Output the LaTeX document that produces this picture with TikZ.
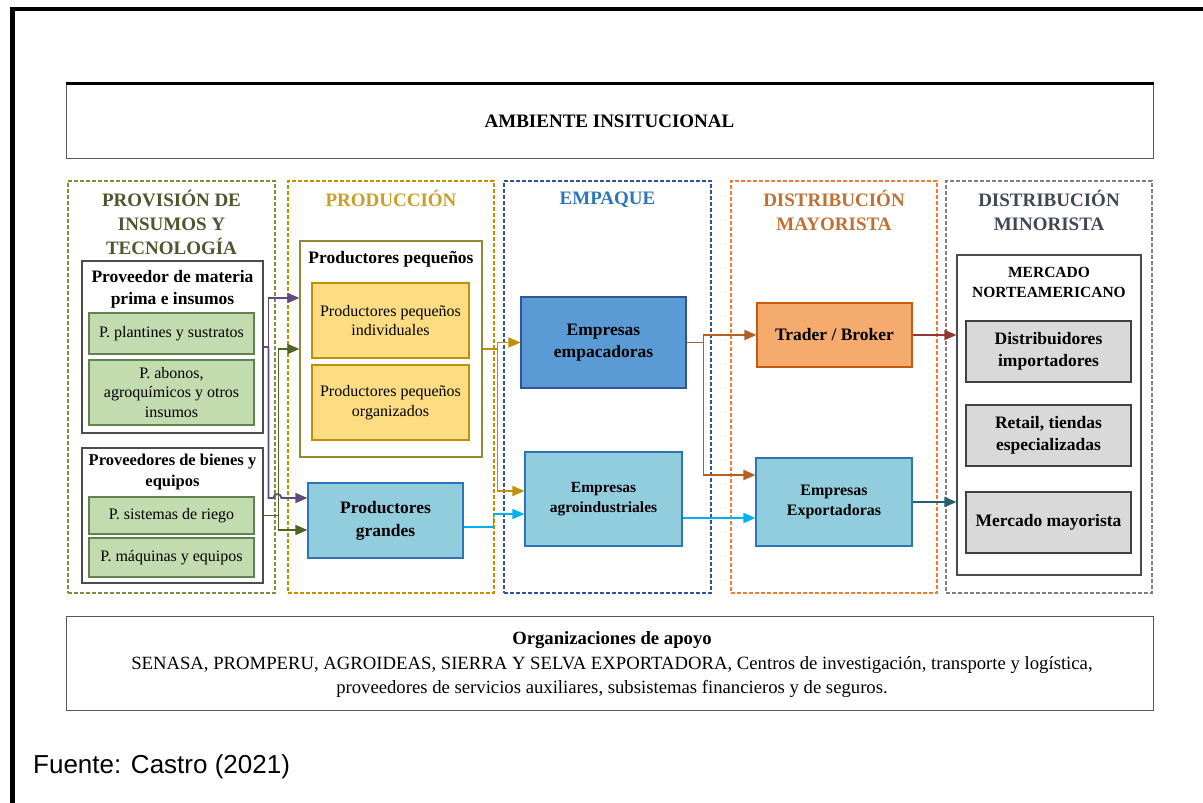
\documentclass[tikz,border=0pt]{standalone}
\usepackage{fontspec}
\setmainfont{Liberation Serif}
\newfontfamily\arialf{Liberation Sans}
\usetikzlibrary{arrows.meta}
\definecolor{cgreenD}{RGB}{118,146,60}
\definecolor{cgoldD}{RGB}{191,144,0}
\definecolor{cblueD}{RGB}{47,85,151}
\definecolor{corangeD}{RGB}{237,125,49}
\definecolor{cgrayD}{RGB}{128,128,128}
\definecolor{tOne}{RGB}{80,85,45}
\definecolor{tTwo}{RGB}{200,160,40}
\definecolor{tThree}{RGB}{46,117,182}
\definecolor{tFour}{RGB}{192,112,48}
\definecolor{tFive}{RGB}{64,70,86}
\definecolor{gfill}{RGB}{195,220,175}
\definecolor{gline}{RGB}{100,130,80}
\definecolor{yfill}{RGB}{253,220,130}
\definecolor{lbfill}{RGB}{146,205,222}
\definecolor{lbline}{RGB}{46,117,182}
\definecolor{dbfill}{RGB}{91,155,213}
\definecolor{dbline}{RGB}{47,85,151}
\definecolor{orfill}{RGB}{245,170,110}
\definecolor{orline}{RGB}{197,90,17}
\definecolor{grfill}{RGB}{217,217,217}
\definecolor{ppline}{RGB}{143,138,58}
\definecolor{apurple}{RGB}{96,74,123}
\definecolor{agreen}{RGB}{79,98,40}
\definecolor{agold}{RGB}{191,144,0}
\definecolor{acyan}{RGB}{0,176,240}
\definecolor{abrown}{RGB}{180,95,35}
\definecolor{ared}{RGB}{148,54,52}
\definecolor{ateal}{RGB}{40,95,105}
\tikzset{
  colbox/.style={draw, line width=1.8pt, dash pattern=on 4pt off 2pt, minimum height=412pt, minimum width=207pt},
  ctitle/.style={font=\fontsize{19}{24}\selectfont\bfseries, align=center},
  stitle/.style={font=\fontsize{17.5}{22}\selectfont\bfseries, align=center},
  framebox/.style={draw=black!65, line width=1pt},
  wbox/.style={draw=black!70, line width=1.1pt, fill=white},
  gbox/.style={draw=gline, line width=1.1pt, fill=gfill, minimum width=165pt, align=center, font=\fontsize{16}{19.5}\selectfont},
  ybox/.style={draw=cgoldD, line width=1.1pt, fill=yfill, minimum width=157pt, minimum height=75pt, align=center, font=\fontsize{16}{19.5}\selectfont},
  lbbox/.style={draw=lbline, line width=1.1pt, fill=lbfill, align=center},
  dbbox/.style={draw=dbline, line width=1.1pt, fill=dbfill, align=center},
  orbox/.style={draw=orline, line width=1.1pt, fill=orfill, align=center},
  grbox/.style={draw=black!75, line width=1.1pt, fill=grfill, minimum width=165pt, minimum height=61pt, align=center, font=\fontsize{17.5}{22}\selectfont\bfseries},
  conn/.style={line width=1.8pt},
  tip/.style={conn, -{Triangle[length=12pt,width=10pt]}}
}
\begin{document}
\begin{tikzpicture}[x=1pt,y=-1pt]
\useasboundingbox (0,0) rectangle (1203,803);
\fill[white] (0,0) rectangle (1203,803);
% outer frame
\draw[line width=4.5pt] (12.5,803) -- (12.5,9) -- (1203,9);
% institutional environment
\node[framebox, minimum width=1087pt, minimum height=75pt, font=\fontsize{19}{23}\selectfont\bfseries] (amb) at (609.5,121) {AMBIENTE INSITUCIONAL};
\draw[line width=3pt] (amb.north west) -- (amb.north east);
% columns
\node[colbox, draw=cgreenD] (c1) at (171.5,387) {};
\node[colbox, draw=cgoldD, minimum width=206pt] (c2) at (391,387) {};
\node[colbox, draw=cblueD] (c3) at (607.5,387) {};
\node[colbox, draw=corangeD, minimum width=206pt] (c4) at (834,387) {};
\node[colbox, draw=cgrayD, minimum width=206pt] (c5) at (1049,387) {};
\node[ctitle, text=tOne] (t1) at (171.5,222) {PROVISIÓN DE\\INSUMOS Y\\TECNOLOGÍA};
\node[ctitle, text=tTwo] (t2) at (391,198) {PRODUCCIÓN};
\node[ctitle, text=tThree] (t3) at (607.5,200) {EMPAQUE};
\node[ctitle, text=tFour] (t4) at (834,210) {DISTRIBUCIÓN\\MAYORISTA};
\node[ctitle, text=tFive] (t5) at (1049,210) {DISTRIBUCIÓN\\MINORISTA};
% column 1
\node[wbox, minimum width=181pt, minimum height=172pt] (prov1) at (172.5,347) {};
\node[stitle] (prov1t) at (172.5,289) {Proveedor de materia\\prima e insumos};
\node[gbox, minimum height=41pt] (pl) at (171.5,333.5) {P. plantines y sustratos};
\node[gbox, minimum height=65pt] (ab) at (171.5,392.5) {P. abonos,\\agroquímicos y otros\\insumos};
\node[wbox, minimum width=181pt, minimum height=135pt] (prov2) at (172.5,515.5) {};
\node[stitle, font=\fontsize{16.5}{20.5}\selectfont\bfseries] (prov2t) at (172.5,472) {Proveedores de bienes y\\equipos};
\node[gbox, minimum height=37pt] (riego) at (171.5,515.5) {P. sistemas de riego};
\node[gbox, minimum height=39pt] (maq) at (171.5,557.5) {P. máquinas y equipos};
% column 2
\node[wbox, draw=ppline, minimum width=182pt, minimum height=216pt] (pp) at (391,349) {};
\node[stitle] (ppt) at (391,259) {Productores pequeños};
\node[ybox] (ind) at (390.5,320.5) {Productores pequeños\\individuales};
\node[ybox] (org) at (390.5,402.5) {Productores pequeños\\organizados};
\node[lbbox, minimum width=155pt, minimum height=75pt, font=\fontsize{17.5}{23}\selectfont\bfseries] (pg) at (385.5,520.5) {Productores\\grandes};
% column 3
\node[dbbox, minimum width=165pt, minimum height=91pt, font=\fontsize{17.5}{22}\selectfont\bfseries] (emp) at (603.5,342.5) {Empresas\\empacadoras};
\node[lbbox, minimum width=157pt, minimum height=94pt, font=\fontsize{15.5}{20}\selectfont\bfseries] (agro) at (603.5,499) {Empresas\\agroindustriales};
% column 4
\node[orbox, minimum width=155pt, minimum height=64pt, font=\fontsize{17.5}{22}\selectfont\bfseries] (trader) at (834.5,335) {Trader / Broker};
\node[lbbox, minimum width=156pt, minimum height=88pt, font=\fontsize{16}{20}\selectfont\bfseries] (exp) at (834,502) {Empresas\\Exportadoras};
% column 5
\node[wbox, minimum width=184pt, minimum height=320pt] (merc) at (1049,415) {};
\node[font=\fontsize{15.5}{20}\selectfont\bfseries, align=center] (merct) at (1049,282) {MERCADO\\NORTEAMERICANO};
\node[grbox] (dist) at (1048.5,351.5) {Distribuidores\\importadores};
\node[grbox] (retail) at (1048.5,435.5) {Retail, tiendas\\especializadas};
\node[grbox] (mm) at (1048.5,522.5) {Mercado mayorista};
% support organisations
\node[framebox, minimum width=1087pt, minimum height=94pt] (apoyo) at (609.5,663) {};
\node[align=center, font=\fontsize{18.7}{24.5}\selectfont] (apoyot) at (612,665) {\textbf{Organizaciones de apoyo}\\SENASA, PROMPERU, AGROIDEAS, SIERRA Y SELVA EXPORTADORA, Centros de investigación, transporte y logística,\\proveedores de servicios auxiliares, subsistemas financieros y de seguros.};
% source
\node[anchor=west, inner sep=0pt, font=\arialf\fontsize{26}{30}\selectfont] (src) at (33,767) {Fuente: Castro (2021)};
% connectors
\coordinate (pv) at ([xshift=5pt]prov1.east);
\draw[conn, apurple] (prov1.east) -- (pv);
\draw[tip, apurple] (pv) |- ([yshift=51pt]pp.west);
\draw[tip, apurple] (pv) |- ([yshift=22.5pt, xshift=-34pt]pg.west) arc[start angle=180, end angle=360, radius=4] -- ([yshift=22.5pt]pg.west);
\coordinate (gv) at ([xshift=15pt]prov2.east);
\draw[conn, agreen] (prov2.east) -- (gv);
\draw[tip, agreen] (gv) |- (pp.west);
\draw[tip, agreen] (gv) |- ([yshift=-9.5pt]pg.west);
\coordinate (gd) at ([xshift=15pt]pp.east);
\draw[conn, agold] (pp.east) -- (gd);
\draw[tip, agold] (gd) |- (emp.west);
\draw[tip, agold] (gd) |- ([yshift=8pt]agro.west);
\coordinate (cs) at ([yshift=-6.5pt]pg.east);
\draw[tip, acyan] (cs) -- ++(30,0) |- ([yshift=-15pt]agro.west);
\coordinate (ca) at ([yshift=-19pt]agro.east);
\draw[tip, acyan] (ca) -- (ca -| exp.west);
\coordinate (bv) at ([xshift=17pt]emp.east);
\draw[conn, abrown] (emp.east) -- (bv);
\draw[tip, abrown] (bv) |- (trader.west);
\draw[tip, abrown] (bv) |- ([yshift=27pt]exp.west);
\draw[tip, ared] (trader.east) -- (trader.east -| merc.west);
\draw[tip, ateal] (exp.east) -- (exp.east -| merc.west);
\end{tikzpicture}
\end{document}
